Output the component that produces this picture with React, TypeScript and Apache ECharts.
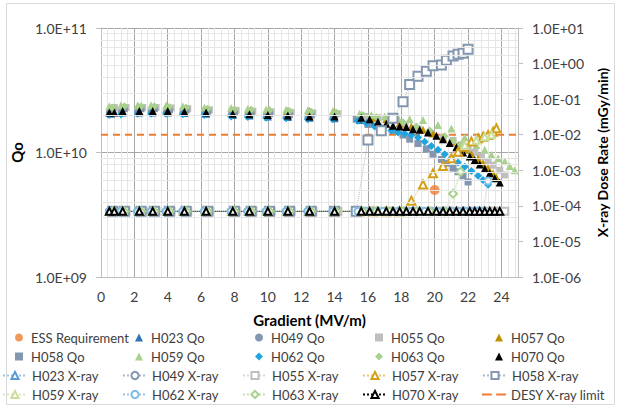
import React, { useEffect, useRef } from 'react';
import * as echarts from 'echarts';

// ---------- data ----------
const essGrad = [20.0];
const essQo = [5.0e9];

const h023Grad = [0.6, 1.3, 2.3, 3.1, 4.0, 5.0, 6.3, 7.9, 8.9, 10.0, 11.2, 12.5, 14.0, 15.5, 16.2];
const h023Qo = [2.05e10, 2.1e10, 2.1e10, 2.1e10, 2.1e10, 2.08e10, 2.05e10, 2.0e10, 1.98e10, 1.95e10, 1.93e10, 1.9e10, 1.88e10, 1.82e10, 1.75e10];
const h023Xray = [7e-5, 7e-5, 7e-5, 7e-5, 7e-5, 7e-5, 7e-5, 7e-5, 7e-5, 7e-5, 7e-5, 7e-5, 7e-5, 7e-5, 7e-5];

const h049Grad = [0.5, 1.2, 2.2, 3.0, 3.9, 4.9, 6.2, 7.8, 8.8, 9.9, 11.1, 12.4, 13.9];
const h049Qo = [2.1e10, 2.12e10, 2.12e10, 2.12e10, 2.1e10, 2.08e10, 2.05e10, 2.02e10, 2.0e10, 1.98e10, 1.95e10, 1.92e10, 1.9e10];
const h049Xray = [7e-5, 7e-5, 7e-5, 7e-5, 7e-5, 7e-5, 7e-5, 7e-5, 7e-5, 7e-5, 7e-5, 7e-5, 7e-5];

const h055Grad = [0.8, 1.5, 2.5, 3.3, 4.2, 5.2, 6.5, 8.1, 9.1, 10.2, 11.4, 12.7, 14.2, 15.8, 16.6, 17.4, 18.2, 19.0, 19.8, 20.5, 21.1, 21.6, 22.0, 22.4, 22.8, 23.2, 23.5, 23.9, 24.2];
const h055Qo = [2.3e10, 2.3e10, 2.3e10, 2.3e10, 2.28e10, 2.25e10, 2.2e10, 2.18e10, 2.15e10, 2.12e10, 2.1e10, 2.08e10, 2.05e10, 1.95e10, 1.9e10, 1.8e10, 1.68e10, 1.55e10, 1.42e10, 1.32e10, 1.25e10, 1.15e10, 1.08e10, 1.0e10, 9.3e9, 8.5e9, 7.9e9, 7.2e9, 6.6e9];
const h055Xray = [7e-5, 7e-5, 7e-5, 7e-5, 7e-5, 7e-5, 7e-5, 7e-5, 7e-5, 7e-5, 7e-5, 7e-5, 7e-5, 7e-5, 7e-5, 7e-5, 7e-5, 7e-5, 7e-5, 7e-5, 7e-5, 7e-5, 7e-5, 7e-5, 7e-5, 7e-5, 7e-5, 7e-5, 7e-5];

const h057Grad = [8.0, 9.0, 10.1, 11.2, 12.5, 14.0, 15.5, 16.3, 17.1, 17.9, 18.6, 19.3, 19.9, 20.5, 21.0, 21.4, 21.8, 22.2, 22.6, 22.9, 23.2, 23.5, 23.7];
const h057Qo = [2.2e10, 2.2e10, 2.18e10, 2.15e10, 2.15e10, 2.1e10, 1.94e10, 1.9e10, 1.86e10, 1.72e10, 1.62e10, 1.52e10, 1.42e10, 1.32e10, 1.22e10, 1.14e10, 1.05e10, 9.7e9, 8.9e9, 8.2e9, 7.5e9, 6.8e9, 6.3e9];
const h057Xray = [7e-5, 7e-5, 7e-5, 7e-5, 7e-5, 7e-5, 7e-5, 7e-5, 7e-5, 7e-5, 1.4e-4, 4.0e-4, 8.2e-4, 1.32e-3, 2.17e-3, 3.3e-3, 4.6e-3, 6.4e-3, 7.9e-3, 8.8e-3, 9.8e-3, 1.22e-2, 1.51e-2];

const h058Grad = [0.7, 1.4, 2.4, 3.2, 4.1, 5.1, 6.4, 8.0, 9.0, 10.1, 11.3, 12.6, 14.0, 15.3, 16.0, 16.8, 17.5, 18.1, 18.5, 19.0, 19.5, 19.9, 20.4, 20.7, 21.1, 21.4, 21.7, 22.0];
const h058Qo = [2.2e10, 2.25e10, 2.25e10, 2.25e10, 2.2e10, 2.2e10, 2.15e10, 2.1e10, 2.08e10, 2.05e10, 2.02e10, 2.0e10, 1.98e10, 1.85e10, 1.68e10, 1.57e10, 1.5e10, 1.38e10, 1.28e10, 1.18e10, 1.07e10, 9.7e9, 8.8e9, 8.2e9, 7.5e9, 7.0e9, 6.5e9, 5.8e9];
const h058Xray = [7e-5, 7e-5, 7e-5, 7e-5, 7e-5, 7e-5, 7e-5, 7e-5, 7e-5, 7e-5, 7e-5, 7e-5, 7e-5, 7e-5, 7.1e-3, 1.3e-2, 2.9e-2, 8.5e-2, 0.26, 0.44, 0.61, 0.87, 0.91, 1.24, 1.63, 1.83, 1.94, 2.52];

const h059Grad = [0.5, 1.2, 2.2, 3.0, 3.9, 4.9, 6.2, 7.8, 8.8, 9.9, 11.1, 12.4, 13.9, 15.5, 16.2, 17.0, 17.8, 18.5, 19.3, 20.2, 21.0, 21.8, 22.5, 23.0, 23.4, 23.8, 24.2, 24.5, 24.8];
const h059Qo = [2.35e10, 2.4e10, 2.4e10, 2.4e10, 2.38e10, 2.35e10, 2.3e10, 2.28e10, 2.25e10, 2.22e10, 2.2e10, 2.18e10, 2.15e10, 2.05e10, 2.0e10, 1.95e10, 1.9e10, 1.85e10, 1.82e10, 1.66e10, 1.56e10, 1.32e10, 1.15e10, 1.05e10, 9.6e9, 9.0e9, 8.5e9, 7.8e9, 7.2e9];
const h059Xray = [7e-5, 7e-5, 7e-5, 7e-5, 7e-5, 7e-5, 7e-5, 7e-5, 7e-5, 7e-5, 7e-5, 7e-5, 7e-5, 7e-5, 7e-5, 7e-5, 7e-5, 7e-5, 7e-5, 7e-5, 7e-5, 5.0e-3, 7.0e-3, 8.8e-3, 1.0e-2, null, null, null, null];

const h062Grad = [0.5, 1.2, 2.2, 3.0, 3.9, 4.9, 6.2, 7.8, 8.8, 9.9, 11.1, 12.4, 13.9, 15.4, 15.9, 16.4, 16.9, 17.4, 17.8, 18.2, 18.6, 19.0, 19.4, 19.8, 20.2, 20.6, 21.0, 21.4, 21.8, 22.2, 22.6, 22.9, 23.2];
const h062Qo = [2.0e10, 2.02e10, 2.05e10, 2.05e10, 2.05e10, 2.03e10, 2.0e10, 1.95e10, 1.93e10, 1.9e10, 1.88e10, 1.85e10, 1.85e10, 1.8e10, 1.72e10, 1.62e10, 1.55e10, 1.5e10, 1.45e10, 1.42e10, 1.38e10, 1.32e10, 1.22e10, 1.13e10, 1.05e10, 9.7e9, 9.0e9, 8.3e9, 7.7e9, 7.1e9, 6.5e9, 6.0e9, 5.5e9];
const h062Xray = [7e-5, 7e-5, 7e-5, 7e-5, 7e-5, 7e-5, 7e-5, 7e-5, 7e-5, 7e-5, 7e-5, 7e-5, 7e-5, 7e-5, 7e-5, 7e-5, 7e-5, 7e-5, 7e-5, 7e-5, 7e-5, 7e-5, 7e-5, 7e-5, 7e-5, 7e-5, 7e-5, 7e-5, 7e-5, 7e-5, 7e-5, 7e-5, 5.0e-4];

const h063Grad = [0.7, 1.4, 2.4, 3.2, 4.1, 5.1, 6.4, 8.0, 9.0, 10.1, 11.3, 12.6, 14.1, 15.7, 16.5, 17.3, 18.1, 18.9, 19.7, 20.6, 21.1, 21.55];
const h063Qo = [2.3e10, 2.35e10, 2.35e10, 2.35e10, 2.32e10, 2.3e10, 2.25e10, 2.22e10, 2.2e10, 2.18e10, 2.15e10, 2.12e10, 2.1e10, 2.0e10, 1.92e10, 1.85e10, 1.75e10, 1.62e10, 1.5e10, 1.35e10, 1.25e10, 1.15e10];
const h063Xray = [7e-5, 7e-5, 7e-5, 7e-5, 7e-5, 7e-5, 7e-5, 7e-5, 7e-5, 7e-5, 7e-5, 7e-5, 7e-5, 7e-5, 7e-5, 7e-5, 7e-5, 7e-5, 7e-5, 7e-5, 2.2e-4, 9.0e-4];

const h070Grad = [0.5, 0.8, 1.3, 2.3, 3.1, 4.0, 5.0, 6.3, 7.9, 8.9, 10.0, 11.2, 12.5, 14.0, 15.6, 16.1, 16.6, 17.1, 17.5, 17.9, 18.3, 18.7, 19.1, 19.6, 20.1, 20.5, 20.9, 21.3, 21.7, 22.1, 22.4, 22.7, 23.0, 23.3, 23.6, 23.9];
const h070Qo = [2.1e10, 2.1e10, 2.15e10, 2.15e10, 2.15e10, 2.15e10, 2.12e10, 2.1e10, 2.05e10, 2.03e10, 2.0e10, 1.98e10, 1.95e10, 1.95e10, 1.9e10, 1.85e10, 1.77e10, 1.7e10, 1.64e10, 1.62e10, 1.6e10, 1.54e10, 1.52e10, 1.45e10, 1.36e10, 1.28e10, 1.19e10, 1.1e10, 1.0e10, 9.3e9, 8.7e9, 8.0e9, 7.4e9, 6.8e9, 6.2e9, 5.75e9];
const h070Xray = [7e-5, 7e-5, 7e-5, 7e-5, 7e-5, 7e-5, 7e-5, 7e-5, 7e-5, 7e-5, 7e-5, 7e-5, 7e-5, 7e-5, 7e-5, 7e-5, 7e-5, 7e-5, 7e-5, 7e-5, 7e-5, 7e-5, 7e-5, 7e-5, 7e-5, 7e-5, 7e-5, 7e-5, 7e-5, 7e-5, 7e-5, 7e-5, 7e-5, 7e-5, 7e-5, 7e-5];

const desyGrad = [0, 25];
const desyXray = [1e-2, 1e-2];

const legendNames = [
  'ESS Requirement', 'H023 Qo', 'H049 Qo', 'H055 Qo', 'H057 Qo',
  'H058 Qo', 'H059 Qo', 'H062 Qo', 'H063 Qo', 'H070 Qo',
  'H023 X-ray', 'H049 X-ray', 'H055 X-ray', 'H057 X-ray', 'H058 X-ray',
  'H059 X-ray', 'H062 X-ray', 'H063 X-ray', 'H070 X-ray', 'DESY X-ray limit',
];

// ---------- styles ----------
const FONT = 'Lato';
const cavities = [
  { name: 'H023', grad: h023Grad, qo: h023Qo, xray: h023Xray, qoSym: 'triangle', qoSize: 8, qoColor: '#2E75B6', xSym: 'emptyTriangle', xSize: 7, xColor: '#5B9BD5', xLine: '#9DC3E6' },
  { name: 'H049', grad: h049Grad, qo: h049Qo, xray: h049Xray, qoSym: 'circle', qoSize: 7, qoColor: '#8497B0', xSym: 'emptyCircle', xSize: 7, xColor: '#8497B0', xLine: '#ADB9CA' },
  { name: 'H055', grad: h055Grad, qo: h055Qo, xray: h055Xray, qoSym: 'rect', qoSize: 7, qoColor: '#BFBFBF', xSym: 'emptyRect', xSize: 7, xColor: '#BFBFBF', xLine: '#D9D9D9' },
  { name: 'H057', grad: h057Grad, qo: h057Qo, xray: h057Xray, qoSym: 'triangle', qoSize: 8, qoColor: '#BF9000', xSym: 'emptyTriangle', xSize: 8, xColor: '#D4A017', xLine: '#E8C66A' },
  { name: 'H058', grad: h058Grad, qo: h058Qo, xray: h058Xray, qoSym: 'rect', qoSize: 7, qoColor: '#8497B0', xSym: 'emptyRect', xSize: 9, xColor: '#8497B0', xLine: '#ADB9CA' },
  { name: 'H059', grad: h059Grad, qo: h059Qo, xray: h059Xray, qoSym: 'triangle', qoSize: 8, qoColor: '#A9D18E', xSym: 'emptyTriangle', xSize: 7, xColor: '#CCDD9A', xLine: '#DDE8C0' },
  { name: 'H062', grad: h062Grad, qo: h062Qo, xray: h062Xray, qoSym: 'diamond', qoSize: 8, qoColor: '#1FA4E0', xSym: 'emptyCircle', xSize: 7, xColor: '#7FBDE4', xLine: '#9DC3E6' },
  { name: 'H063', grad: h063Grad, qo: h063Qo, xray: h063Xray, qoSym: 'diamond', qoSize: 8, qoColor: '#A9D18E', xSym: 'emptyDiamond', xSize: 8, xColor: '#A9D18E', xLine: '#C5E0B4' },
  { name: 'H070', grad: h070Grad, qo: h070Qo, xray: h070Xray, qoSym: 'triangle', qoSize: 8, qoColor: '#000000', xSym: 'emptyTriangle', xSize: 7, xColor: '#000000', xLine: '#000000' },
];

const sci = (v: number) => {
  const e = Math.round(Math.log10(v));
  return `1.0E${e < 0 ? '-' : '+'}${String(Math.abs(e)).padStart(2, '0')}`;
};

// minor log gridlines of the Qo axis (2..9 of each decade)
const minorQoLines: number[] = [];
[1e9, 1e10].forEach((d) => { for (let k = 2; k <= 9; k++) minorQoLines.push(k * d); });

const rowCenters = [339, 358, 377, 396];

function buildOption() {
  const qoSeries = cavities.map((c) => ({
    type: 'scatter', name: `${c.name} Qo`, yAxisIndex: 0,
    symbol: c.qoSym, symbolSize: c.qoSize,
    itemStyle: { color: c.qoColor, opacity: 1 },
    data: c.grad.map((g, i) => [g, c.qo[i]]), z: 3,
  }));
  const xraySeries = cavities.map((c) => ({
    type: 'line', name: `${c.name} X-ray`, yAxisIndex: 1,
    symbol: c.xSym, symbolSize: c.xSize, showSymbol: true, showAllSymbol: true,
    color: c.xColor,
    itemStyle: { color: c.xColor, borderColor: c.xColor, borderWidth: 1 },
    lineStyle: { color: c.xLine, width: 1, type: 'dotted' },
    data: c.grad.map((g, i) => (c.xray[i] == null ? null : [g, c.xray[i]])).filter((p) => p !== null),
    z: 4,
  }));

  const legends = legendNames.map((name, i) => {
    const row = Math.floor(i / 5);
    const col = i % 5;
    const textX = 31 + col * 120;
    const isLine = row >= 2;
    const iw = isLine ? 24 : 8;
    const pad = isLine ? 0 : 3;
    return {
      data: [name === 'DESY X-ray limit' ? { name, icon: 'path://M0,0h9v2h-9zM13,0h9v2h-9z' } : name],
      left: textX - iw - 5 - pad,
      top: rowCenters[row] - 8,
      itemWidth: iw, itemHeight: isLine ? 9 : 8,
      itemGap: 0, padding: 0, selectedMode: false,
      textStyle: { fontFamily: FONT, fontSize: 13, color: '#404040', padding: [0, 0, 0, pad] },
    };
  });

  return {
    animation: false,
    backgroundColor: '#ffffff',
    textStyle: { fontFamily: FONT },
    grid: { left: 101, right: 86, top: 28, bottom: 130, containLabel: false },
    legend: legends,
    graphic: [{
      type: 'rect', silent: true, z: -10,
      shape: { x: 6.5, y: 3.5, width: 608, height: 401 },
      style: { fill: 'none', stroke: '#D9D9D9', lineWidth: 1 },
    }],
    xAxis: {
      type: 'value', min: 0, max: 25, interval: 2,
      axisLine: { show: true, lineStyle: { color: '#BFBFBF' } },
      axisTick: { show: false },
      axisLabel: { fontFamily: FONT, fontSize: 14, color: '#404040', margin: 12, formatter: (v: number) => (v > 24.5 ? '' : String(v)) },
      splitLine: { show: true, lineStyle: { color: '#A6A6A6', width: 1 } },
      minorTick: { show: false, splitNumber: 5 },
      minorSplitLine: { show: true, lineStyle: { color: '#E6E6E6', width: 1 } },
      name: 'Gradient (MV/m)', nameLocation: 'middle', nameGap: 35,
      nameTextStyle: { fontFamily: FONT, fontWeight: 'bold', fontSize: 15, color: '#000' },
    },
    yAxis: [
      {
        type: 'log', logBase: 10, min: 1e9, max: 1e11, interval: 1, position: 'left',
        axisLine: { show: true, lineStyle: { color: '#BFBFBF' } },
        axisTick: { show: true, length: 5, lineStyle: { color: '#BFBFBF' } },
        axisLabel: { fontFamily: FONT, fontSize: 14, color: '#404040', margin: 14, formatter: sci },
        splitLine: { show: true, lineStyle: { color: '#A6A6A6', width: 1 } },
        name: 'Qo', nameLocation: 'middle', nameGap: 77, nameRotate: 90,
        nameTextStyle: { fontFamily: FONT, fontWeight: 'bold', fontSize: 15, color: '#000' },
      },
      {
        type: 'log', logBase: 10, min: 1e-6, max: 10, interval: 1, position: 'right',
        axisLine: { show: true, lineStyle: { color: '#BFBFBF' } },
        axisTick: { show: true, length: 5, lineStyle: { color: '#BFBFBF' } },
        axisLabel: { fontFamily: FONT, fontSize: 14, color: '#404040', margin: 14, formatter: sci },
        splitLine: { show: false },
        name: 'X-ray Dose Rate (mGy/min)', nameLocation: 'middle', nameGap: 68, nameRotate: 90,
        nameTextStyle: { fontFamily: FONT, fontWeight: 'bold', fontSize: 14, color: '#000' },
      },
    ],
    series: [
      {
        type: 'line', name: '_minorgrid', yAxisIndex: 0, data: [], silent: true, z: 1,
        markLine: {
          silent: true, symbol: 'none', label: { show: false }, animation: false,
          lineStyle: { color: '#E6E6E6', type: 'solid', width: 1 },
          data: minorQoLines.map((v) => ({ yAxis: v })),
        },
      },
      {
        type: 'line', name: 'DESY X-ray limit', yAxisIndex: 1, symbol: 'none', color: '#ED7D31',
        lineStyle: { color: '#ED7D31', width: 2, type: [7, 5] },
        data: desyGrad.map((g, i) => [g, desyXray[i]]), z: 2,
      },
      {
        type: 'scatter', name: 'ESS Requirement', yAxisIndex: 0, symbol: 'circle', symbolSize: 10,
        itemStyle: { color: '#ED7D31' }, data: essGrad.map((g, i) => [g, essQo[i]]), z: 3,
      },
      ...qoSeries,
      ...xraySeries,
    ],
  };
}

export default function App() {
  const ref = useRef<HTMLDivElement>(null);
  useEffect(() => {
    if (!ref.current) return;
    const chart = echarts.init(ref.current, null, { renderer: 'svg' });
    chart.setOption(buildOption() as any);
    return () => chart.dispose();
  }, []);
  return (
    <div
      ref={ref}
      style={{ position: 'fixed', left: 0, top: 0, width: 617, height: 407, background: '#fff' }}
    />
  );
}
